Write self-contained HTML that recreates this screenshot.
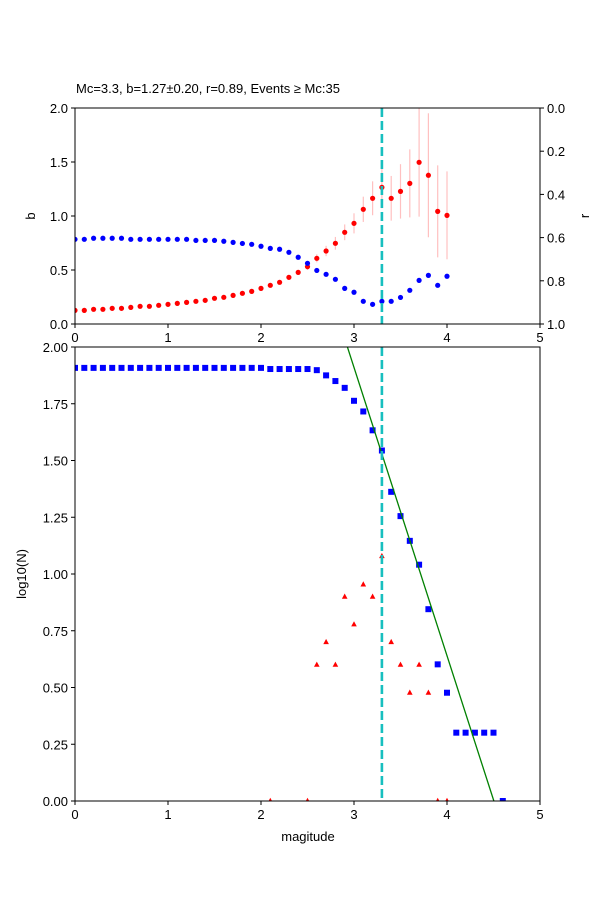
<!DOCTYPE html>
<html><head><meta charset="utf-8"><style>
body{margin:0;background:#fff}
svg text{font-family:"Liberation Sans",sans-serif;font-size:13px;fill:#000}
</style></head><body>
<svg id="fig" width="600" height="900" viewBox="0 0 600 900" xmlns="http://www.w3.org/2000/svg">
<rect width="600" height="900" fill="#fff"/>
<text x="76" y="93">Mc=3.3, b=1.27±0.20, r=0.89, Events ≥ Mc:35</text>
<g id="topPanel"></g>
<g id="botPanel"></g>
</svg>
<script>
const mags = [0,0.1,0.2,0.3,0.4,0.5,0.6,0.7,0.8,0.9,1.0,1.1,1.2,1.3,1.4,1.5,1.6,1.7,1.8,1.9,2.0,2.1,2.2,2.3,2.4,2.5,2.6,2.7,2.8,2.9,3.0,3.1,3.2,3.3,3.4,3.5,3.6,3.7,3.8,3.9,4.0];
const bVals = [0.126,0.126,0.136,0.136,0.145,0.145,0.154,0.164,0.164,0.173,0.182,0.191,0.2,0.21,0.219,0.238,0.247,0.265,0.284,0.302,0.33,0.358,0.386,0.432,0.478,0.531,0.608,0.676,0.747,0.849,0.932,1.062,1.164,1.265,1.164,1.228,1.302,1.497,1.377,1.043,1.006];
const bErr = [0,0,0,0,0,0,0,0,0,0,0,0,0,0,0,0,0,0,0,0,0,0,0,0.01,0.02,0.03,0.037,0.048,0.059,0.073,0.093,0.117,0.157,0.193,0.207,0.252,0.315,0.503,0.574,0.426,0.407];
const rVals = [0.608,0.608,0.603,0.603,0.603,0.603,0.608,0.608,0.608,0.608,0.608,0.608,0.608,0.613,0.613,0.613,0.617,0.622,0.627,0.631,0.64,0.65,0.654,0.668,0.691,0.719,0.752,0.77,0.793,0.835,0.853,0.895,0.909,0.895,0.895,0.877,0.844,0.798,0.775,0.821,0.779];
const cumMags = [0,0.1,0.2,0.3,0.4,0.5,0.6,0.7,0.8,0.9,1.0,1.1,1.2,1.3,1.4,1.5,1.6,1.7,1.8,1.9,2.0,2.1,2.2,2.3,2.4,2.5,2.6,2.7,2.8,2.9,3.0,3.1,3.2,3.3,3.4,3.5,3.6,3.7,3.8,3.9,4.0,4.1,4.2,4.3,4.4,4.5,4.6];
const cumVals = [1.908,1.908,1.908,1.908,1.908,1.908,1.908,1.908,1.908,1.908,1.908,1.908,1.908,1.908,1.908,1.908,1.908,1.908,1.908,1.908,1.908,1.903,1.903,1.903,1.903,1.903,1.898,1.875,1.85,1.82,1.763,1.716,1.633,1.544,1.362,1.255,1.146,1.041,0.845,0.602,0.477,0.301,0.301,0.301,0.301,0.301,0];
const ncMags = [2.1,2.5,2.6,2.7,2.8,2.9,3.0,3.1,3.2,3.3,3.4,3.5,3.6,3.7,3.8,3.9,4.0];
const ncVals = [0,0,0.6,0.7,0.6,0.9,0.778,0.954,0.9,1.079,0.7,0.6,0.477,0.6,0.477,0,0];
const xTicks = [0,1,2,3,4,5];
const bTicks = [0,0.5,1.0,1.5,2.0];
const rTicks = [0,0.2,0.4,0.6,0.8,1.0];
const nTicks = [0,0.25,0.5,0.75,1.0,1.25,1.5,1.75,2.0];
const Mc = 3.3, bFit = 1.27, aFit = 5.72;

const NS="http://www.w3.org/2000/svg";
function mk(parent,tag,attrs){const e=document.createElementNS(NS,tag);for(const k in attrs)e.setAttribute(k,attrs[k]);parent.appendChild(e);return e;}
const L=75,R=540;
const sx=m=>L+(m/5)*(R-L);
const T1=108,B1=324, T2=347,B2=801;
const yb=v=>B1-(v/2)*(B1-T1);
const yr=v=>T1+v*(B1-T1);
const yn=v=>B2-(v/2)*(B2-T2);
const topG=document.getElementById('topPanel'), botG=document.getElementById('botPanel');

// top panel
const c1=mk(topG,'clipPath',{id:'c1'});mk(c1,'rect',{x:L,y:T1,width:R-L,height:B1-T1});
const gTop=mk(topG,'g',{'clip-path':'url(#c1)'});
mags.forEach((m,i)=>{
  if(bErr[i]>0){const e=mk(gTop,'line',{x1:sx(m),x2:sx(m),y1:yb(bVals[i]-bErr[i]),y2:yb(bVals[i]+bErr[i]),stroke:'#ffc0c0','stroke-width':1.2});
  
  }
});
mags.forEach((m,i)=>{
  const c=mk(gTop,'circle',{cx:sx(m),cy:yb(bVals[i]),r:2.6,fill:'#ff0000'});
  
  
  const d=mk(gTop,'circle',{cx:sx(m),cy:yr(rVals[i]),r:2.6,fill:'#0000ff'});
  
  
});
const mc1=mk(topG,'line',{x1:sx(Mc),x2:sx(Mc),y1:T1,y2:B1,stroke:'#17bfbf','stroke-width':2.6,'stroke-dasharray':'9,4'});


mk(topG,'rect',{x:L,y:T1,width:R-L,height:B1-T1,fill:'none',stroke:'#000','stroke-width':1});
xTicks.forEach(t=>{mk(topG,'line',{x1:sx(t),x2:sx(t),y1:B1,y2:B1+4,stroke:'#000'});
  const tx=mk(topG,'text',{x:sx(t),y:B1+18,'text-anchor':'middle'});tx.textContent=t;
  
  });
bTicks.forEach(t=>{mk(topG,'line',{x1:L-4,x2:L,y1:yb(t),y2:yb(t),stroke:'#000'});
  const tx=mk(topG,'text',{x:L-7,y:yb(t)+5,'text-anchor':'end'});tx.textContent=t.toFixed(1);
  
  });
rTicks.forEach(t=>{mk(topG,'line',{x1:R,x2:R+4,y1:yr(t),y2:yr(t),stroke:'#000'});
  const tx=mk(topG,'text',{x:R+7,y:yr(t)+5,'text-anchor':'start'});tx.textContent=t.toFixed(1);
  
  });
const bl=mk(topG,'text',{x:0,y:0,transform:`translate(35,216) rotate(-90)`,'text-anchor':'middle'});bl.textContent='b';


const rl=mk(topG,'text',{x:0,y:0,transform:`translate(589,216) rotate(-90)`,'text-anchor':'middle'});rl.textContent='r';



// bottom panel
const c2=mk(botG,'clipPath',{id:'c2'});mk(c2,'rect',{x:L,y:T2,width:R-L,height:B2-T2});
const gB=mk(botG,'g',{'clip-path':'url(#c2)'});
ncMags.forEach((m,i)=>{
  const x=sx(m),y=yn(ncVals[i]);
  const p=mk(gB,'polygon',{points:`${x},${y-3.2} ${x-2.8},${y+2} ${x+2.8},${y+2}`,fill:'#ff0000'});
  
  
});
cumMags.forEach((m,i)=>{
  const r=mk(gB,'rect',{x:sx(m)-3,y:yn(cumVals[i])-3,width:6,height:6,fill:'#0000ff'});
  
  
});
const fl=mk(gB,'line',{x1:sx((aFit-2.2)/bFit),y1:yn(2.2),x2:sx(aFit/bFit),y2:yn(0),stroke:'#008000','stroke-width':1.3});


const mc2=mk(botG,'line',{x1:sx(Mc),x2:sx(Mc),y1:T2,y2:B2,stroke:'#17bfbf','stroke-width':2.6,'stroke-dasharray':'9,4'});


mk(botG,'rect',{x:L,y:T2,width:R-L,height:B2-T2,fill:'none',stroke:'#000','stroke-width':1});
xTicks.forEach(t=>{mk(botG,'line',{x1:sx(t),x2:sx(t),y1:B2,y2:B2+4,stroke:'#000'});
  const tx=mk(botG,'text',{x:sx(t),y:B2+18,'text-anchor':'middle'});tx.textContent=t;
  
  });
nTicks.forEach(t=>{mk(botG,'line',{x1:L-4,x2:L,y1:yn(t),y2:yn(t),stroke:'#000'});
  const tx=mk(botG,'text',{x:L-7,y:yn(t)+5,'text-anchor':'end'});tx.textContent=t.toFixed(2);
  
  });
const nl=mk(botG,'text',{x:0,y:0,transform:`translate(26,574) rotate(-90)`,'text-anchor':'middle'});nl.textContent='log10(N)';


const ml=mk(botG,'text',{x:308,y:841,'text-anchor':'middle'});ml.textContent='magitude';


</script>
</body></html>
